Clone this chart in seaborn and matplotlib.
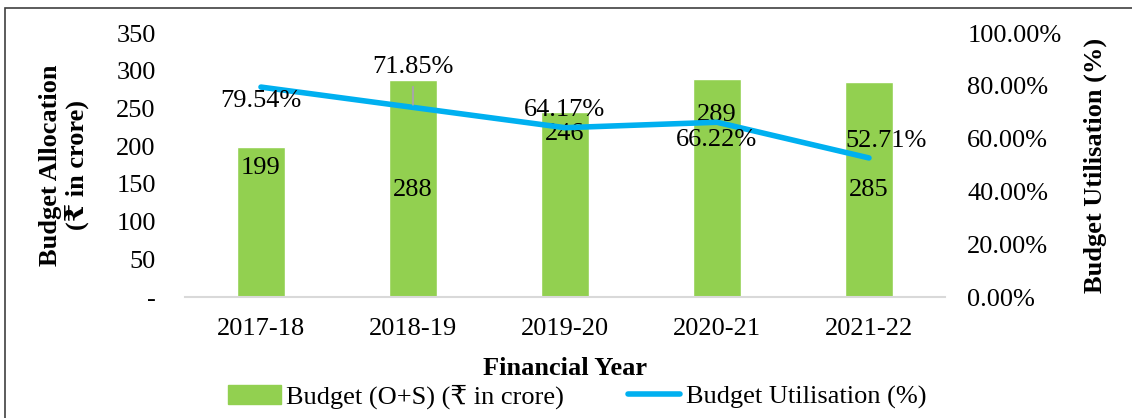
import matplotlib
matplotlib.use("Agg")
import matplotlib.pyplot as plt
from matplotlib.patches import Rectangle
from matplotlib.lines import Line2D
from matplotlib.ticker import FuncFormatter
import seaborn as sns
import pandas as pd

years = ["2017-18", "2018-19", "2019-20", "2020-21", "2021-22"]
budget = [199, 288, 246, 289, 285]
utilisation = [79.54, 71.85, 64.17, 66.22, 52.71]

# where each data label sits relative to its mark (points)
bar_lbl_off = [-15, -79, -16, -26, -78]
line_lbl_off = [(0, -10), (0, 29), (0, 13), (0, -13), (12, 12)]

sns.set_theme(style="white")
plt.rcParams["font.family"] = ["Liberation Serif", "DejaVu Serif", "DejaVu Sans"]
plt.rcParams["text.color"] = "black"
plt.rcParams["axes.labelcolor"] = "black"

GREEN = "#92D050"
BLUE = "#00B0F0"

df = pd.DataFrame({"year": years, "budget": budget, "util": utilisation})

fig = plt.figure(figsize=(11.32, 4.18), dpi=100)
ax = fig.add_axes([0.1634, 0.289, 0.6714, 0.632])

sns.barplot(data=df, x="year", y="budget", color=GREEN, width=0.31,
            saturation=1, ax=ax)
ax.set_xlim(-0.5, 4.5)
ax.set_ylim(0, 350)
ax.set_yticks(range(0, 351, 50))
ax.yaxis.set_major_formatter(FuncFormatter(lambda v, p: "-" if v == 0 else f"{int(v)}"))
ax.tick_params(axis="both", length=0, labelsize=19, colors="black")
ax.tick_params(axis="x", pad=15)
ax.tick_params(axis="y", pad=21)
for s in ["top", "right", "left"]:
    ax.spines[s].set_visible(False)
ax.spines["bottom"].set_color("#D9D9D9")
ax.spines["bottom"].set_linewidth(1.5)
ax.set_xlabel("Financial Year", fontsize=19, fontweight="bold", labelpad=12)
ax.set_ylabel("Budget Allocation\n(\u20b9 in crore)", fontsize=19, fontweight="bold",
              labelpad=20, linespacing=1.1)

for i, v in enumerate(budget):
    ax.annotate(str(v), (i, v), xytext=(0, bar_lbl_off[i]), textcoords="offset points",
                ha="center", va="center", fontsize=19)

ax2 = ax.twinx()
sns.lineplot(data=df, x="year", y="util", color=BLUE, linewidth=4, ax=ax2, sort=False)
ax2.set_ylim(0, 100)
ax2.set_yticks(range(0, 101, 20))
ax2.yaxis.set_major_formatter(FuncFormatter(lambda v, p: f"{v:.2f}%"))
ax2.tick_params(axis="y", length=0, labelsize=19, pad=16, colors="black")
for s in ["top", "right", "left", "bottom"]:
    ax2.spines[s].set_visible(False)
ax2.set_ylabel("Budget Utilisation (%)", fontsize=19, fontweight="bold", labelpad=16)

for i, v in enumerate(utilisation):
    dx, dy = line_lbl_off[i]
    kw = {}
    if i == 1:
        kw = dict(arrowprops=dict(arrowstyle="-", color="#A6A6A6", lw=1.5,
                                  shrinkA=4, shrinkB=2))
    ax2.annotate(f"{v:.2f}%", (i, v), xytext=(dx, dy), textcoords="offset points",
                 ha="center", va="center", fontsize=19, **kw)

handles = [Rectangle((0, 0), 1, 1, color=GREEN),
           Line2D([0], [0], color=BLUE, linewidth=4)]
fig.legend(handles, ["Budget (O+S) (\u20b9 in crore)", "Budget Utilisation (%)"],
           loc="center", bbox_to_anchor=(0.51, 0.05), ncol=2, frameon=False,
           fontsize=19, handlelength=2.0, handleheight=0.75, handletextpad=0.2,
           columnspacing=2.4)

fig.patches.append(Rectangle((0.0045, -0.05), 1.1, 1.031, transform=fig.transFigure,
                             fill=False, edgecolor="#404040", linewidth=1.2))

fig.savefig("out.png", dpi=100)
